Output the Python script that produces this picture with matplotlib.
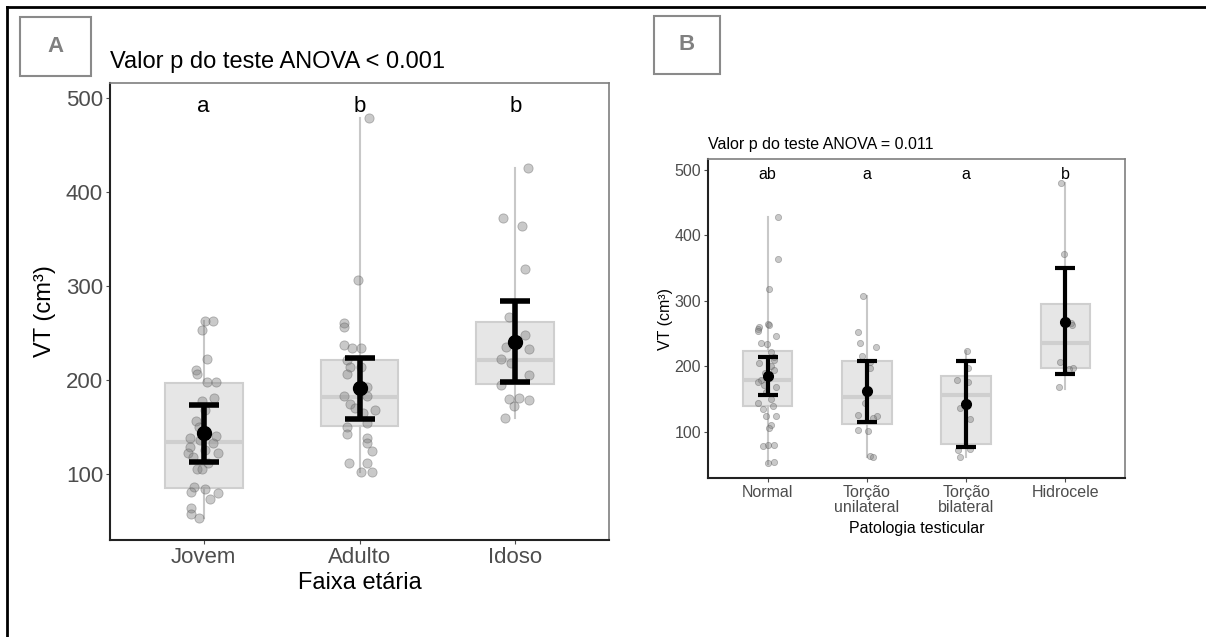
import matplotlib
matplotlib.use('Agg')
from matplotlib import pyplot as plt
from matplotlib.patches import Rectangle
from matplotlib.lines import Line2D

plt.rcParams['font.family'] = ['Liberation Sans', 'DejaVu Sans']

W, H = 1206, 637

# ---- panel A: Faixa etaria ----
AGE_GROUPS = ['Jovem', 'Adulto', 'Idoso']
AGE_LETTERS = ['a', 'b', 'b']
AGE_Q1 = [85, 151, 196]
AGE_MED = [134, 182, 221]
AGE_Q3 = [197, 221, 262]
AGE_WLO = [53, 102, 160]
AGE_WHI = [263, 479, 426]
AGE_MEAN = [144, 192, 241]
AGE_CI_LO = [113, 159, 198]
AGE_CI_HI = [174, 224, 284]

jovem_vals = [263, 263, 253, 222, 211, 207, 198, 198, 181, 178, 168, 157, 150, 141, 138, 136, 133,
              129, 126, 123, 123, 118, 112, 106, 106, 86, 84, 81, 80, 74, 64, 58, 53]
jovem_jit = [0.06, 0.01, -0.01, 0.02, -0.05, -0.04, 0.02, 0.08, 0.07, -0.01, 0.01, -0.05, -0.03, 0.08,
             -0.09, -0.02, 0.06, -0.09, 0.01, -0.10, 0.09, -0.07, 0.03, -0.04, -0.01, -0.06, 0.01,
             -0.08, 0.09, 0.04, -0.08, -0.08, -0.03]
adulto_vals = [479, 307, 261, 256, 237, 234, 234, 221, 214, 214, 207, 193, 183, 183, 175, 170, 168,
               165, 154, 150, 143, 139, 133, 125, 112, 112, 102, 102]
adulto_jit = [0.06, -0.01, -0.10, -0.10, -0.10, -0.05, 0.01, -0.08, -0.06, 0.01, -0.08, 0.05, -0.10,
              0.05, -0.06, -0.03, 0.10, 0.02, 0.05, -0.08, -0.08, 0.05, 0.05, 0.08, -0.07, 0.05,
              0.01, 0.08]
idoso_vals = [426, 372, 364, 318, 267, 248, 235, 233, 222, 218, 205, 195, 180, 181, 179, 172, 160]
idoso_jit = [0.08, -0.08, 0.04, 0.06, -0.04, 0.06, -0.06, 0.09, -0.09, -0.03, 0.09, -0.09, -0.04,
             0.02, 0.09, -0.01, -0.07]
AGE_POINTS = [jovem_vals, adulto_vals, idoso_vals]
AGE_JITTER = [jovem_jit, adulto_jit, idoso_jit]

# ---- panel B: Patologia testicular ----
PAT_GROUPS = ['Normal', 'Torção\nunilateral', 'Torção\nbilateral', 'Hidrocele']
PAT_LETTERS = ['ab', 'a', 'a', 'b']
PAT_Q1 = [139, 113, 82, 198]
PAT_MED = [180, 154, 157, 235]
PAT_Q3 = [223, 209, 186, 295]
PAT_WLO = [51, 62, 62, 166]
PAT_WHI = [427, 308, 223, 480]
PAT_MEAN = [186, 163, 143, 268]
PAT_CI_LO = [156, 116, 77, 188]
PAT_CI_HI = [215, 209, 209, 350]

normal_vals = [427, 364, 318, 265, 263, 260, 257, 254, 246, 235, 234, 222, 215, 210, 205, 200, 195,
               190, 180, 176, 172, 168, 161, 150, 144, 139, 135, 125, 124, 111, 106, 80, 80, 79, 53, 54]
normal_jit = [0.10, 0.10, 0.01, 0.0, 0.01, -0.09, -0.10, -0.10, 0.08, -0.07, -0.01, 0.03, 0.06, 0.06,
              -0.09, 0.03, 0.06, -0.03, -0.07, -0.10, -0.04, 0.08, -0.02, 0.03, -0.10, 0.05, -0.05,
              -0.02, 0.08, 0.03, 0.01, 0.0, 0.06, -0.05, 0.0, 0.06]
uni_vals = [308, 253, 236, 230, 216, 207, 197, 160, 144, 126, 124, 121, 103, 102, 63, 62]
uni_jit = [-0.04, -0.09, -0.07, 0.09, -0.05, 0.03, 0.03, -0.01, -0.02, -0.09, 0.10, 0.06, -0.09,
           0.01, 0.03, 0.06]
bi_vals = [223, 198, 180, 177, 137, 120, 73, 74, 62]
bi_jit = [0.01, 0.02, -0.09, 0.02, -0.06, 0.04, -0.08, 0.04, -0.06]
hidro_vals = [480, 372, 266, 263, 206, 198, 196, 168]
hidro_jit = [-0.04, -0.01, 0.06, 0.07, -0.05, 0.08, 0.04, -0.06]
PAT_POINTS = [normal_vals, uni_vals, bi_vals, hidro_vals]
PAT_JITTER = [normal_jit, uni_jit, bi_jit, hidro_jit]


def draw_panel(ax, groups, letters, q1, med, q3, wlo, whi, mean, lo, hi, points, jitter,
               fs, pt_size, err_lw, capsize, ms, letter_y):
    pos = list(range(1, len(groups) + 1))
    stats = [dict(q1=a, med=m, q3=b, whislo=wl, whishi=wh, fliers=[])
             for a, m, b, wl, wh in zip(q1, med, q3, wlo, whi)]
    ax.bxp(stats, positions=pos, widths=0.5, patch_artist=True, showcaps=False,
           boxprops=dict(facecolor='#e6e6e6', edgecolor='#cfcfcf', linewidth=1.5),
           medianprops=dict(color='#cfcfcf', linewidth=3),
           whiskerprops=dict(color='#c8c8c8', linewidth=1.5), zorder=1)
    for p, vals, jit in zip(pos, points, jitter):
        ax.scatter([p + j for j in jit], vals, s=pt_size, color='#7a7a7a', alpha=0.4,
                   edgecolors='#555555', linewidths=0.6, zorder=2)
    ax.errorbar(pos, mean, yerr=[[m - l for m, l in zip(mean, lo)], [h - m for m, h in zip(mean, hi)]],
                fmt='o', color='black', ms=ms, elinewidth=err_lw, capsize=capsize,
                capthick=err_lw, zorder=3)
    for p, t in zip(pos, letters):
        ax.text(p, letter_y, t, ha='center', va='center', fontsize=fs, color='black')

    ax.set_xlim(0.4, len(groups) + 0.6)
    ax.set_ylim(30, 516)
    ax.set_xticks(pos)
    ax.set_xticklabels(groups, linespacing=1.0)
    ax.set_yticks([100, 200, 300, 400, 500])
    ax.tick_params(labelsize=fs, colors='#4d4d4d', length=3, pad=2)
    for s in ['top', 'right']:
        ax.spines[s].set_color('#7f7f7f')
        ax.spines[s].set_linewidth(1.2)
    for s in ['left', 'bottom']:
        ax.spines[s].set_color('#222222')
        ax.spines[s].set_linewidth(1.5)


fig = plt.figure(figsize=(W / 100, H / 100), dpi=100)


def frac_rect(x0, y0, x1, y1):
    return [x0 / W, 1 - y1 / H, (x1 - x0) / W, (y1 - y0) / H]


axA = fig.add_axes(frac_rect(110, 83, 609, 540))
draw_panel(axA, AGE_GROUPS, AGE_LETTERS, AGE_Q1, AGE_MED, AGE_Q3, AGE_WLO, AGE_WHI,
           AGE_MEAN, AGE_CI_LO, AGE_CI_HI, AGE_POINTS, AGE_JITTER,
           fs=16, pt_size=44, err_lw=4, capsize=11, ms=10, letter_y=491)
axA.text(0, 1.046, 'Valor p do teste ANOVA < 0.001', transform=axA.transAxes,
         ha='left', va='center', fontsize=17)
axA.set_xlabel('Faixa etária', fontsize=17, color='black')
axA.xaxis.set_label_coords(0.5, -0.094)
axA.xaxis.label.set_va('center')
axA.set_ylabel('VT (cm³)', fontsize=17, color='black')
axA.yaxis.set_label_coords(-0.13, 0.5)
axA.yaxis.label.set_va('center')

axB = fig.add_axes(frac_rect(708, 159, 1125, 478))
draw_panel(axB, PAT_GROUPS, PAT_LETTERS, PAT_Q1, PAT_MED, PAT_Q3, PAT_WLO, PAT_WHI,
           PAT_MEAN, PAT_CI_LO, PAT_CI_HI, PAT_POINTS, PAT_JITTER,
           fs=11.5, pt_size=20, err_lw=3, capsize=7, ms=7, letter_y=492)
axB.text(0, 1.044, 'Valor p do teste ANOVA = 0.011', transform=axB.transAxes,
         ha='left', va='center', fontsize=11.5)
axB.set_xlabel('Patologia testicular', fontsize=11.5, color='black')
axB.xaxis.set_label_coords(0.5, -0.157)
axB.xaxis.label.set_va('center')
axB.set_ylabel('VT (cm³)', fontsize=11.5, color='black')
axB.yaxis.set_label_coords(-0.103, 0.5)
axB.yaxis.label.set_va('center')

# panel tags
for (x0, y0, x1, y1), tag in [((20, 17, 91, 76), 'A'), ((654, 16, 720, 74), 'B')]:
    fig.add_artist(Rectangle((x0 / W, 1 - y1 / H), (x1 - x0) / W, (y1 - y0) / H,
                             transform=fig.transFigure, fill=False, edgecolor='#8a8a8a', lw=1.5))
    fig.text((x0 + x1) / 2 / W, 1 - (y0 + y1) / 2 / H, tag, ha='center', va='center',
             fontsize=16, fontweight='bold', color='#808080')

# outer frame (top and left edges)
fig.add_artist(Line2D([7 / W, 1], [1 - 7 / H, 1 - 7 / H], transform=fig.transFigure,
                      color='black', lw=2))
fig.add_artist(Line2D([7 / W, 7 / W], [0, 1 - 7 / H], transform=fig.transFigure,
                      color='black', lw=2))

fig.savefig('out.png', dpi=100)
